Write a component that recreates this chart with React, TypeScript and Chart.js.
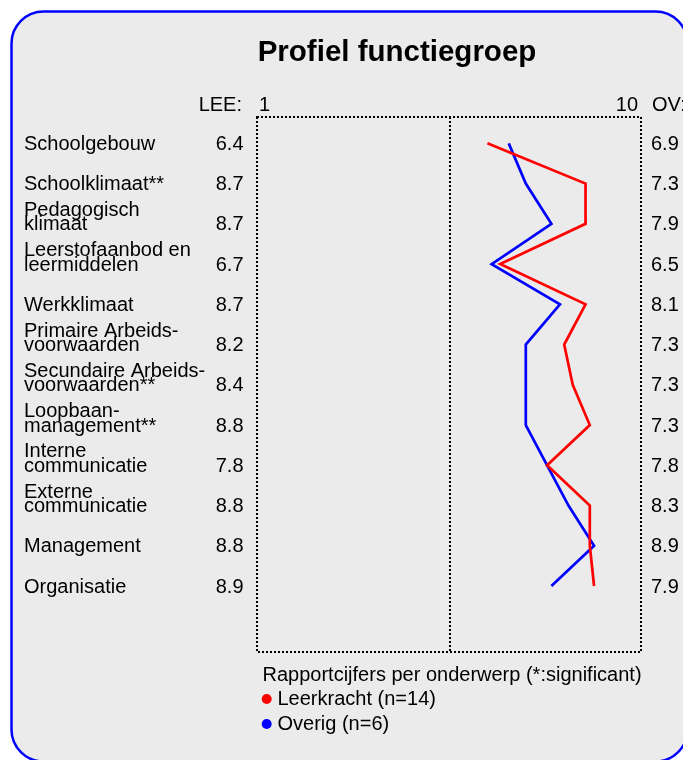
import React, { useEffect, useRef } from "react";
import { Chart, registerables } from "chart.js";

Chart.register(...registerables);

const title = "Profiel functiegroep";
const categories: string[][] = [
  ["Schoolgebouw"],
  ["Schoolklimaat**"],
  ["Pedagogisch", "klimaat"],
  ["Leerstofaanbod en", "leermiddelen"],
  ["Werkklimaat"],
  ["Primaire Arbeids-", "voorwaarden"],
  ["Secundaire Arbeids-", "voorwaarden**"],
  ["Loopbaan-", "management**"],
  ["Interne", "communicatie"],
  ["Externe", "communicatie"],
  ["Management"],
  ["Organisatie"],
];
const leerkracht = [6.4, 8.7, 8.7, 6.7, 8.7, 8.2, 8.4, 8.8, 7.8, 8.8, 8.8, 8.9];
const overig = [6.9, 7.3, 7.9, 6.5, 8.1, 7.3, 7.3, 7.3, 7.8, 8.3, 8.9, 7.9];
const seriesNames = ["Leerkracht (n=14)", "Overig (n=6)"];
const seriesColors = ["#ff0000", "#0000ff"];
const columnHeaders = ["LEE:", "OV:"];
const xTickLabels = ["1", "10"];
const xMin = 1;
const xMax = 10;
const xMid = 5.5;
const footnote = "Rapportcijfers per onderwerp (*:significant)";

const FONT = "'Liberation Sans', Arial, sans-serif";

const decorPlugin = {
  id: "decor",
  beforeDraw(chart: any) {
    const ctx = chart.ctx as CanvasRenderingContext2D;
    ctx.save();
    ctx.fillStyle = "#ffffff";
    ctx.fillRect(0, 0, chart.width, chart.height);
    // panel
    const x = 11.5, y = 11.5, w = 676, h = 750, r = 32;
    ctx.beginPath();
    ctx.moveTo(x + r, y);
    ctx.lineTo(x + w - r, y);
    ctx.arcTo(x + w, y, x + w, y + r, r);
    ctx.lineTo(x + w, y + h - r);
    ctx.arcTo(x + w, y + h, x + w - r, y + h, r);
    ctx.lineTo(x + r, y + h);
    ctx.arcTo(x, y + h, x, y + h - r, r);
    ctx.lineTo(x, y + r);
    ctx.arcTo(x, y, x + r, y, r);
    ctx.closePath();
    ctx.fillStyle = "#ebebeb";
    ctx.fill();
    ctx.lineWidth = 2.5;
    ctx.strokeStyle = "#0000ff";
    ctx.stroke();
    ctx.restore();
  },
  beforeDatasetsDraw(chart: any) {
    const ctx = chart.ctx as CanvasRenderingContext2D;
    const area = chart.chartArea;
    const xs = chart.scales.x;
    const ys = chart.scales.y;
    ctx.save();
    // dotted frame
    ctx.strokeStyle = "#000000";
    ctx.lineWidth = 2;
    ctx.setLineDash([2, 2]);
    const L = Math.round(area.left), T = Math.round(area.top);
    const R = Math.round(area.right), B = Math.round(area.bottom);
    ctx.strokeRect(L, T, R - L, B - T);
    const mx = Math.round(xs.getPixelForValue(xMid)) + 1;
    ctx.beginPath();
    ctx.moveTo(mx, T);
    ctx.lineTo(mx, B);
    ctx.stroke();
    ctx.setLineDash([]);

    // title
    ctx.fillStyle = "#000000";
    ctx.textBaseline = "middle";
    ctx.textAlign = "center";
    ctx.font = `bold 29.5px ${FONT}`;
    ctx.fillText(title, 397, 53);

    // headers
    ctx.font = `20px ${FONT}`;
    const hy = 105;
    ctx.textAlign = "right";
    ctx.fillText(columnHeaders[0], 242, hy);
    ctx.textAlign = "left";
    ctx.fillText(xTickLabels[0], xs.getPixelForValue(xMin) + 2, hy);
    ctx.textAlign = "right";
    ctx.fillText(xTickLabels[1], xs.getPixelForValue(xMax) - 3, hy);
    ctx.textAlign = "left";
    ctx.fillText(columnHeaders[1], 652, hy);

    // rows
    const lh = 14.5;
    categories.forEach((lines, i) => {
      const py = ys.getPixelForValue(i);
      ctx.textAlign = "left";
      const n = lines.length;
      lines.forEach((t, j) => {
        ctx.fillText(t, 24, py + 1 - (n - 1 - j) * lh);
      });
      ctx.textAlign = "right";
      ctx.fillText(leerkracht[i].toFixed(1), 243.5, py + 1);
      ctx.textAlign = "left";
      ctx.fillText(overig[i].toFixed(1), 651, py + 1);
    });

    // footnote and legend
    ctx.textAlign = "left";
    ctx.fillText(footnote, 262.5, 675);
    seriesNames.forEach((name, k) => {
      const ly = 699 + k * 25;
      ctx.beginPath();
      ctx.arc(266.7, ly, 5, 0, Math.PI * 2);
      ctx.fillStyle = seriesColors[k];
      ctx.fill();
      ctx.fillStyle = "#000000";
      ctx.fillText(name, 277.5, ly);
    });
    ctx.restore();
  },
};

export default function App() {
  const ref = useRef<HTMLCanvasElement | null>(null);
  useEffect(() => {
    if (!ref.current) return;
    const mk = (vals: number[]) => vals.map((v, i) => ({ x: v, y: i }));
    const chart = new Chart(ref.current, {
      type: "scatter",
      data: {
        datasets: [
          {
            label: seriesNames[0],
            data: mk(leerkracht),
            showLine: true,
            borderColor: seriesColors[0],
            backgroundColor: seriesColors[0],
            borderWidth: 2.7,
            pointRadius: 0,
            tension: 0,
          },
          {
            label: seriesNames[1],
            data: mk(overig),
            showLine: true,
            borderColor: seriesColors[1],
            backgroundColor: seriesColors[1],
            borderWidth: 2.7,
            pointRadius: 0,
            tension: 0,
          },
        ],
      },
      options: {
        animation: false,
        responsive: false,
        devicePixelRatio: 1,
        layout: { padding: { left: 257, top: 117, right: 42, bottom: 108 } },
        plugins: { legend: { display: false }, tooltip: { enabled: false }, title: { display: false } },
        scales: {
          x: { type: "linear", min: xMin, max: xMax, display: false },
          y: { type: "linear", min: -0.655, max: 12.64, reverse: true, display: false },
        },
      },
      plugins: [decorPlugin],
    } as any);
    return () => chart.destroy();
  }, []);
  return (
    <div style={{ position: "fixed", left: 0, top: 0, width: 683, height: 760 }}>
      <canvas ref={ref} width={683} height={760} style={{ width: 683, height: 760, display: "block" }} />
    </div>
  );
}
